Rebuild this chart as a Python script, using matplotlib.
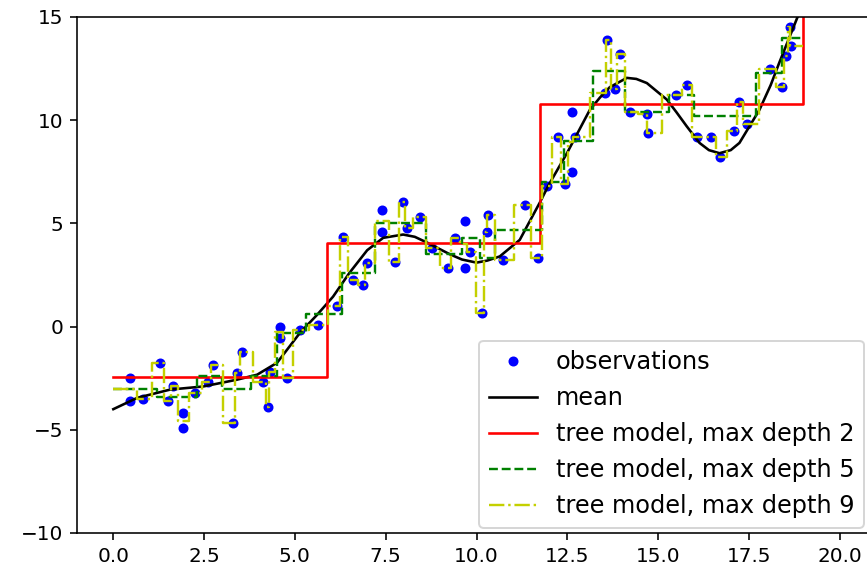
import matplotlib.pyplot as plt
import numpy as np

# observations
obs_x = [0.47, 0.47, 0.83, 1.29, 1.51, 1.65, 1.93, 1.93, 2.26, 2.61, 2.75,
         3.30, 3.41, 3.55, 4.13, 4.26, 4.32, 4.59, 4.59, 4.78, 5.14, 5.64,
         6.16, 6.33, 6.60, 6.88, 6.99, 7.40, 7.40, 7.76, 7.98, 8.08, 8.44,
         8.77, 9.21, 9.40, 9.68, 9.68, 9.82, 10.15, 10.29, 10.31, 10.73,
         11.33, 11.69, 11.94, 12.24, 12.43, 12.62, 12.62, 12.71, 13.53,
         13.58, 13.80, 13.94, 14.22, 14.69, 14.71, 15.50, 15.80, 16.06,
         16.47, 16.70, 17.10, 17.24, 17.46, 18.07, 18.40, 18.53, 18.62, 18.67]
obs_y = [-2.47, -3.60, -3.50, -1.75, -3.60, -2.90, -4.20, -4.90, -3.20, -2.66, -1.84,
         -4.65, -2.23, -1.21, -2.66, -3.88, -2.18, 0.00, -0.53, -2.47, -0.15, 0.10,
         1.00, 4.36, 2.28, 2.03, 3.10, 5.67, 4.60, 3.15, 6.06, 4.80, 5.30,
         3.80, 2.86, 4.30, 5.10, 2.86, 3.60, 0.68, 4.60, 5.40, 3.25,
         5.90, 3.34, 6.80, 9.20, 6.90, 7.50, 10.40, 9.20, 11.30,
         13.90, 11.50, 13.20, 10.40, 10.30, 9.40, 11.20, 11.70, 9.20,
         9.20, 8.20, 9.50, 10.90, 9.80, 12.50, 11.60, 13.10, 14.50, 13.60]

# mean curve
mean_x = [0.0, 0.66, 1.57, 2.48, 3.41, 3.96, 4.51, 5.14, 5.6, 6.05, 6.5, 6.99,
          7.43, 7.98, 8.3, 8.64, 9.27, 9.6, 10.0, 10.3, 10.64, 11.19, 11.74,
          12.0, 12.49, 13.12, 13.4, 13.67, 14.14, 14.4, 14.69, 15.24, 15.5,
          15.79, 16.14, 16.4, 16.69, 17.0, 17.24, 17.79, 18.1, 18.34, 18.84, 19.2]
mean_y = [-4.0, -3.45, -3.05, -2.9, -2.57, -2.33, -1.75, -0.3, 0.55, 1.45, 2.6, 3.7,
          4.3, 4.46, 4.35, 4.07, 3.5, 3.25, 3.1, 3.2, 3.4, 4.2, 6.0,
          6.9, 8.4, 10.5, 11.1, 11.6, 12.05, 12.0, 11.8, 11.0, 10.4,
          9.7, 8.9, 8.55, 8.4, 8.55, 8.9, 10.5, 11.7, 12.8, 15.0, 16.0]

# tree model depth 2
d2_edges = [0.0, 5.89, 11.74, 18.98, 19.0]
d2_vals = [-2.42, 4.07, 10.8, 16.5]

# tree model depth 5
d5_edges = [0.0, 1.2, 2.3, 3.0, 3.8, 4.5, 5.3, 6.3, 7.2, 8.6, 9.6, 10.1, 10.5,
            11.8, 12.4, 13.2, 14.1, 15.3, 16.0, 17.7, 18.4, 19.0]
d5_vals = [-3.0, -3.4, -2.4, -3.0, -2.4, -0.3, 0.6, 2.6, 5.0, 3.5, 4.3, 3.3,
           4.7, 7.0, 9.0, 12.4, 10.4, 11.2, 10.2, 12.3, 14.0]


def step_xy(edges, vals):
    return edges, list(vals) + [vals[-1]]


# depth 9 tree: one leaf per distinct observation x
ux = sorted(set(obs_x))
uy = [np.mean([y for x, y in zip(obs_x, obs_y) if x == u]) for u in ux]
d9_edges = [0.0] + [(a + b) / 2 for a, b in zip(ux[:-1], ux[1:])] + [19.0]

fig = plt.figure(figsize=(867 / 144, 577 / 144), dpi=144)
ax = fig.add_axes([77 / 867, 44 / 577, 799 / 867, 516 / 577])

ax.plot(obs_x, obs_y, 'b.', ms=8, label='observations')
ax.plot(mean_x, mean_y, 'k-', lw=1.3, label='mean')
ax.plot(*step_xy(d2_edges, d2_vals), 'r-', lw=1.3, drawstyle='steps-post',
        label='tree model, max depth 2')
ax.plot(*step_xy(d5_edges, d5_vals), '--', color='g', lw=1.2,
        drawstyle='steps-post', label='tree model, max depth 5')
ax.plot(*step_xy(d9_edges, uy), '-.', color='#c4d000', lw=1.2,
        drawstyle='steps-post', label='tree model, max depth 9')

ax.set_xlim(-1, 21)
ax.set_ylim(-10, 15)
ax.set_xticks(np.arange(0, 20.1, 2.5))
ax.set_yticks([-10, -5, 0, 5, 10, 15])
ax.legend(loc='lower right', numpoints=1, fontsize=12,
          bbox_to_anchor=(1.0, -0.013))

fig.savefig('out.png', dpi=144)
